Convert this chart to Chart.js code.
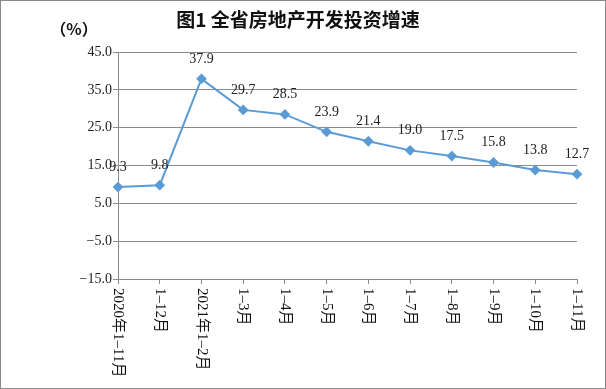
<!DOCTYPE html>
<html>
<head>
<meta charset="utf-8">
<script src="https://cdn.jsdelivr.net/npm/chart.js@4"></script>
<style>
    body { margin: 0; background: #fff; }
    canvas { display: block; }
</style>
</head>
<body>
<canvas id="grafico" width="606" height="389"></canvas>
<script>
const categorias = ["2020年1–11月", "1–12月", "2021年1–2月", "1–3月", "1–4月", "1–5月", "1–6月", "1–7月", "1–8月", "1–9月", "1–10月", "1–11月"];
const valores = [9.3, 9.8, 37.9, 29.7, 28.5, 23.9, 21.4, 19.0, 17.5, 15.8, 13.8, 12.7];
const titulo = "图1 全省房地产开发投资增速";
const unidade = "（%）";

const fonteSerif = "'Liberation Serif', 'Noto Sans CJK SC', serif";
const cinza = "#8a8a8a";

const extras = {
    id: "extras",
    afterDraw(chart) {
        const ctx = chart.ctx;
        const xs = chart.scales.x;
        ctx.save();

        // titulo e unidade
        ctx.fillStyle = "#111";
        ctx.textAlign = "center";
        ctx.textBaseline = "middle";
        ctx.font = "bold 19px 'Noto Sans CJK SC', sans-serif";
        ctx.fillText(titulo, 298, 20);
        ctx.font = "bold 16px 'Noto Sans CJK SC', sans-serif";
        ctx.fillText(unidade, 74, 29);

        // rotulos do eixo x (girados no sentido horario)
        ctx.font = "15px " + fonteSerif;
        ctx.textAlign = "left";
        categorias.forEach((c, i) => {
            ctx.save();
            ctx.translate(xs.getPixelForValue(i), chart.chartArea.bottom + 9);
            ctx.rotate(Math.PI / 2);
            ctx.fillText(c, 0, 0);
            ctx.restore();
        });

        // rotulos dos valores
        const meta = chart.getDatasetMeta(0);
        ctx.font = "14px " + fonteSerif;
        ctx.textAlign = "center";
        ctx.fillStyle = "#222";
        meta.data.forEach((pt, i) => {
            ctx.fillText(valores[i].toFixed(1), pt.x, pt.y - 20);
        });

        // borda
        ctx.strokeStyle = cinza;
        ctx.lineWidth = 1;
        ctx.strokeRect(0.5, 0.5, chart.width - 1, chart.height - 1);
        ctx.restore();
    }
};

new Chart(document.getElementById("grafico").getContext("2d"), {
    type: "line",
    data: {
        labels: categorias,
        datasets: [{
            data: valores,
            borderColor: "#5b9bd5",
            backgroundColor: "#5b9bd5",
            borderWidth: 2,
            pointStyle: "rectRot",
            pointRadius: 4,
            tension: 0
        }]
    },
    options: {
        responsive: false,
        animation: false,
        layout: { padding: { left: 0, right: 29, top: 52, bottom: 0 } },
        plugins: {
            legend: { display: false },
            tooltip: { enabled: false }
        },
        scales: {
            x: {
                offset: false,
                ticks: { display: false },
                grid: { display: true, drawOnChartArea: false, drawTicks: true, tickLength: 5, color: cinza },
                border: { display: true, color: cinza },
                afterFit(scale) { scale.height = 110; }
            },
            y: {
                min: -15,
                max: 45,
                ticks: {
                    stepSize: 10,
                    padding: 1,
                    color: "#222",
                    font: { family: fonteSerif, size: 14 },
                    callback: v => v.toFixed(1).replace("-", "−")
                },
                grid: { color: cinza, tickLength: 5 },
                border: { display: true, color: cinza },
                afterFit(scale) { scale.width = 118; }
            }
        }
    },
    plugins: [extras]
});
</script>
</body>
</html>
